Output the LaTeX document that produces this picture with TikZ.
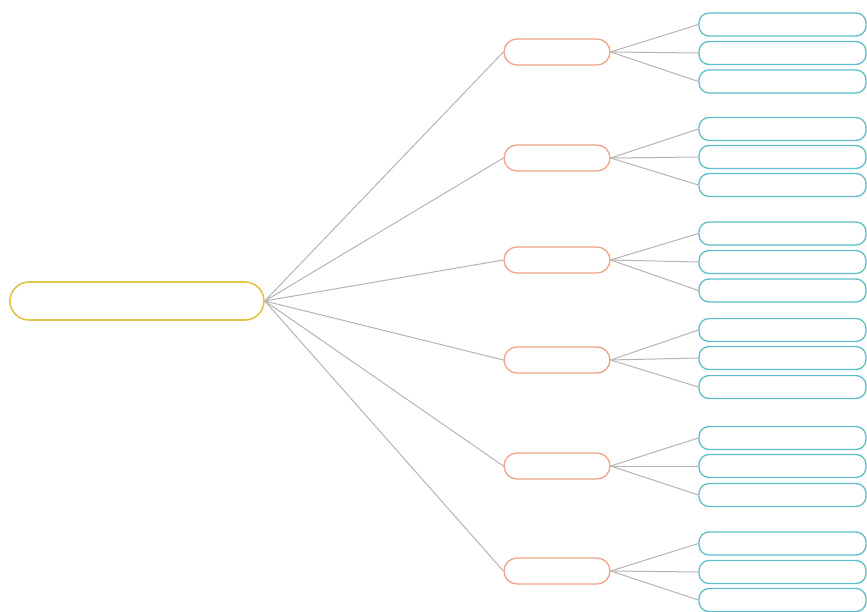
\documentclass[tikz,border=0pt]{standalone}
\begin{document}
\begin{tikzpicture}[x=1pt,y=-1pt,
  rootbox/.style={draw=rootc,line width=1.6pt,rounded corners=19pt,minimum width=254pt,minimum height=38pt,inner sep=0pt,fill=white},
  midbox/.style={draw=midc,line width=1.3pt,rounded corners=13pt,minimum width=106pt,minimum height=26pt,inner sep=0pt,fill=white},
  leafbox/.style={draw=leafc,line width=1.3pt,rounded corners=10pt,minimum width=167pt,minimum height=23pt,inner sep=0pt,fill=white},
  link/.style={draw=linkc,line width=1pt}]
\definecolor{rootc}{HTML}{E2C447}
\definecolor{midc}{HTML}{EFA486}
\definecolor{leafc}{HTML}{5DBFCB}
\definecolor{linkc}{HTML}{B8B2B2}
\useasboundingbox (0,0) rectangle (867,612);
\node[rootbox] (root) at (137,301) {};
\foreach \i/\y in {1/52,2/158,3/260,4/360,5/466,6/571}{
  \node[midbox] (m\i) at (557,\y) {};
}
\foreach \i/\a/\b/\c in {1/24.5/53/81.5,2/129/157/185,3/233.5/262/290.5,4/330/358/387,5/438/466/495,6/543.5/572/600}{
  \node[leafbox] (l\i a) at (782.5,\a) {};
  \node[leafbox] (l\i b) at (782.5,\b) {};
  \node[leafbox] (l\i c) at (782.5,\c) {};
}
\foreach \i in {1,...,6}{
  \draw[link] (root.east) -- (m\i.west);
  \draw[link] (m\i.east) -- (l\i a.west);
  \draw[link] (m\i.east) -- (l\i b.west);
  \draw[link] (m\i.east) -- (l\i c.west);
}
\end{tikzpicture}
\end{document}
